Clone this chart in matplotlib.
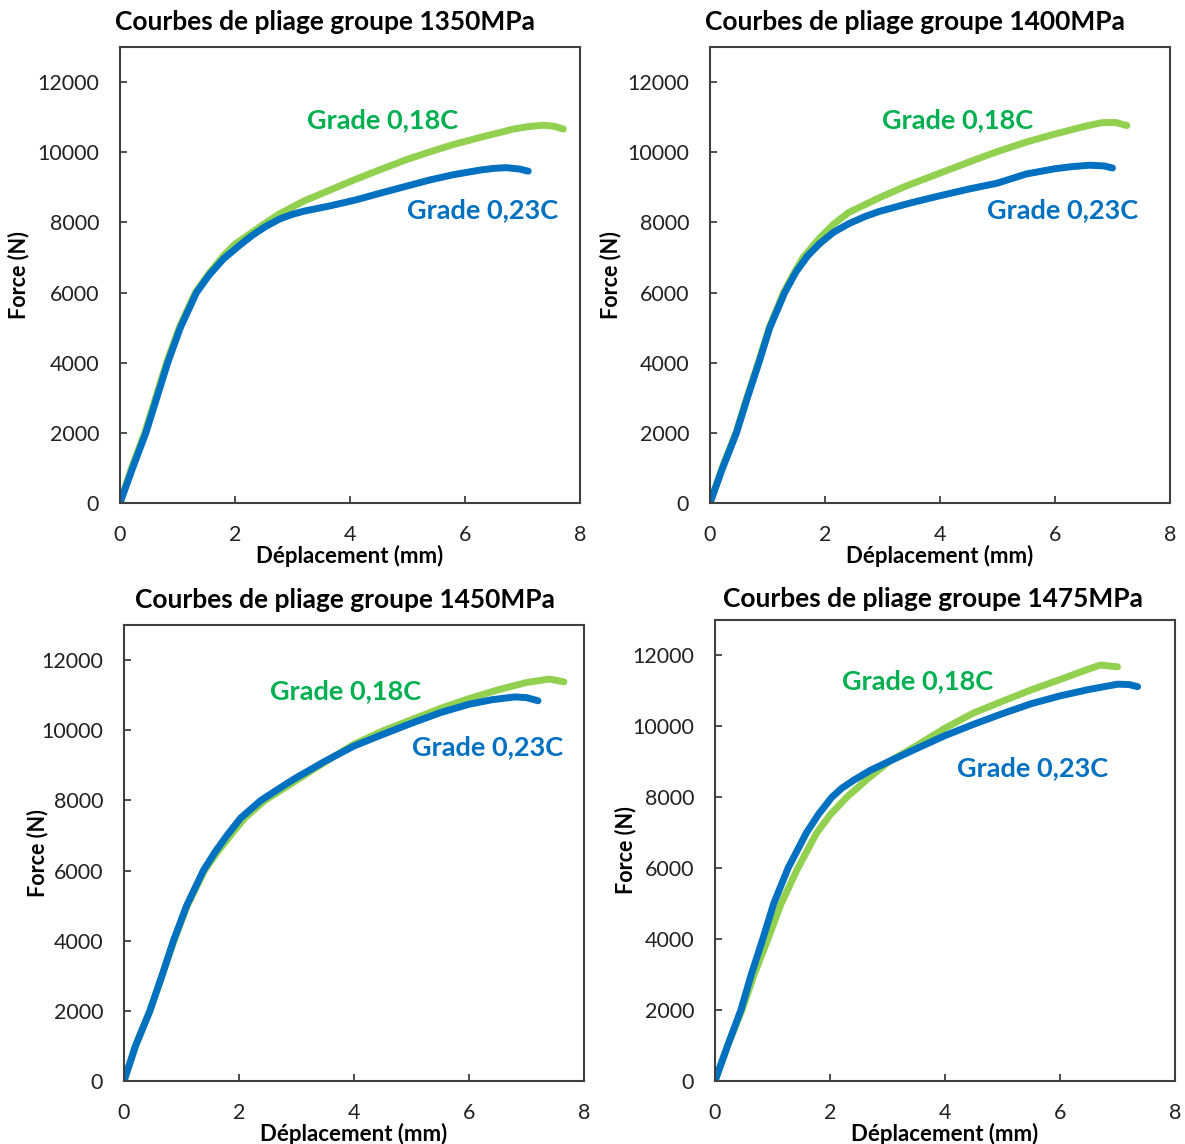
import numpy as np
import matplotlib.pyplot as plt

plt.rcParams['font.family'] = ['Lato', 'DejaVu Sans']

# titres des 4 groupes
titles = ['Courbes de pliage groupe 1350MPa', 'Courbes de pliage groupe 1400MPa',
          'Courbes de pliage groupe 1450MPa', 'Courbes de pliage groupe 1475MPa']

# Grade 0,18C (vert) - déplacement (mm), force (N)
x18_1350 = [0, 0.2, 0.43, 0.62, 0.81, 1.03, 1.31, 1.55, 1.8, 2.0, 2.3, 2.53, 2.78, 3.2, 3.65, 4.1, 4.52, 5.0, 5.39, 5.8, 6.26, 6.6, 6.84, 7.1, 7.36, 7.55, 7.71]
f18_1350 = [0, 1000, 2000, 3000, 4000, 5000, 6000, 6550, 7050, 7380, 7720, 7980, 8250, 8610, 8920, 9230, 9500, 9800, 10010, 10220, 10420, 10560, 10660, 10730, 10770, 10740, 10660]
x18_1400 = [0, 0.21, 0.45, 0.64, 0.84, 1.03, 1.28, 1.45, 1.62, 1.91, 2.15, 2.41, 2.94, 3.4, 3.75, 4.2, 4.6, 5.0, 5.5, 6.0, 6.5, 6.8, 7.05, 7.25]
f18_1400 = [0, 1000, 2000, 3000, 4000, 5000, 6000, 6520, 7000, 7560, 7950, 8280, 8700, 9030, 9250, 9530, 9780, 10020, 10290, 10520, 10730, 10840, 10850, 10760]
x18_1450 = [0, 0.2, 0.45, 0.66, 0.87, 1.1, 1.4, 1.62, 1.85, 2.1, 2.45, 2.95, 3.5, 4.0, 4.5, 5.0, 5.5, 6.0, 6.5, 7.0, 7.4, 7.65]
f18_1450 = [0, 1000, 2000, 3000, 4000, 5000, 6000, 6520, 7000, 7500, 8000, 8520, 9100, 9600, 9980, 10300, 10620, 10900, 11150, 11360, 11460, 11380]
x18_1475 = [0, 0.22, 0.47, 0.68, 0.92, 1.15, 1.44, 1.77, 2.0, 2.29, 2.64, 3.02, 3.55, 4.0, 4.5, 5.0, 5.5, 6.0, 6.4, 6.7, 7.0]
f18_1475 = [0, 1000, 2000, 3000, 4000, 5000, 6000, 7000, 7500, 8000, 8500, 9000, 9500, 9950, 10380, 10710, 11030, 11320, 11560, 11730, 11680]

# Grade 0,23C (bleu)
x23_1350 = [0, 0.22, 0.45, 0.64, 0.83, 1.05, 1.33, 1.55, 1.8, 2.06, 2.3, 2.53, 2.78, 3.0, 3.2, 3.65, 4.1, 4.52, 5.0, 5.39, 5.8, 6.26, 6.5, 6.72, 6.95, 7.1]
f23_1350 = [0, 1000, 2000, 3000, 4000, 5000, 6000, 6500, 6960, 7320, 7630, 7880, 8100, 8230, 8320, 8470, 8640, 8830, 9040, 9210, 9360, 9490, 9540, 9560, 9520, 9460]
x23_1400 = [0, 0.22, 0.46, 0.65, 0.85, 1.04, 1.3, 1.5, 1.7, 1.91, 2.15, 2.41, 2.7, 2.94, 3.5, 4.0, 4.5, 5.0, 5.25, 5.5, 6.0, 6.3, 6.6, 6.85, 7.0]
f23_1400 = [0, 1000, 2000, 3000, 4000, 5000, 6000, 6600, 7050, 7400, 7720, 7960, 8170, 8310, 8560, 8760, 8950, 9120, 9250, 9380, 9530, 9590, 9630, 9610, 9550]
x23_1450 = [0, 0.2, 0.45, 0.66, 0.86, 1.09, 1.38, 1.58, 1.79, 2.03, 2.38, 2.85, 3.0, 3.5, 4.0, 4.5, 5.0, 5.5, 6.0, 6.4, 6.8, 7.0, 7.2]
f23_1450 = [0, 1000, 2000, 3000, 4000, 5000, 6000, 6520, 7000, 7500, 8000, 8500, 8650, 9120, 9550, 9880, 10200, 10500, 10740, 10870, 10950, 10930, 10840]
x23_1475 = [0, 0.22, 0.45, 0.63, 0.83, 1.02, 1.27, 1.59, 1.8, 2.03, 2.2, 2.41, 2.7, 3.05, 3.5, 4.0, 4.5, 5.0, 5.5, 6.0, 6.5, 7.0, 7.2, 7.35]
f23_1475 = [0, 1000, 2000, 3000, 4000, 5000, 6000, 7000, 7520, 8000, 8250, 8480, 8760, 9030, 9370, 9740, 10060, 10360, 10640, 10860, 11040, 11190, 11180, 11120]

green_x = [x18_1350, x18_1400, x18_1450, x18_1475]
green_f = [f18_1350, f18_1400, f18_1450, f18_1475]
blue_x = [x23_1350, x23_1400, x23_1450, x23_1475]
blue_f = [f23_1350, f23_1400, f23_1450, f23_1475]

# positions des étiquettes (mm, N)
lab18 = [(4.56, 10920), (4.31, 10920), (3.86, 11120), (3.53, 11270)]
lab23 = [(6.3, 8350), (6.14, 8350), (6.33, 9520), (5.53, 8820)]

W, H = 1185, 1144
fig = plt.figure(figsize=(W / 100, H / 100), dpi=100)

# boîtes des axes en pixels: gauche, droite, haut, bas
boxes = [(120, 580, 47, 503), (710, 1170, 47, 503), (124, 584, 625, 1081), (715, 1175, 620, 1081)]
ylab_x = [-0.196, -0.193, -0.165, -0.17]
title_x = [0.446, 0.446, 0.48, 0.474]
title_y = [1.037, 1.037, 1.037, 1.028]

dark = '#404040'
for i in range(4):
    l, r, t, b = boxes[i]
    ax = fig.add_axes([l / W, 1 - b / H, (r - l) / W, (b - t) / H])
    ax.plot(green_x[i], green_f[i], color='#92D050', lw=5, solid_capstyle='round',
            solid_joinstyle='round')
    ax.plot(blue_x[i], blue_f[i], color='#0070C0', lw=5, solid_capstyle='round',
            solid_joinstyle='round')
    ax.set_xlim(0, 8)
    ax.set_ylim(0, 13000)
    ax.set_xticks([0, 2, 4, 6, 8])
    ax.set_yticks(range(0, 12001, 2000))
    ax.tick_params(direction='in', length=5, width=1.3, color=dark, labelcolor='#222222',
                   labelsize=15.5)
    ax.tick_params(axis='x', pad=16)
    ax.tick_params(axis='y', pad=15)
    for s in ax.spines.values():
        s.set_color(dark)
        s.set_linewidth(1.5)
    ax.set_xlabel('Déplacement (mm)', fontsize=16, fontweight='bold')
    ax.xaxis.set_label_coords(0.5, -0.092)
    ax.set_ylabel('Force (N)', fontsize=15.5, fontweight='bold')
    ax.yaxis.set_label_coords(ylab_x[i], 0.5)
    ax.set_title(titles[i], fontsize=19, fontweight='bold', x=title_x[i], y=title_y[i], pad=0)
    ax.text(*lab18[i], 'Grade 0,18C', color='#00B050', fontsize=19.5, fontweight='bold',
            ha='center', va='center')
    ax.text(*lab23[i], 'Grade 0,23C', color='#0070C0', fontsize=19.5, fontweight='bold',
            ha='center', va='center')

fig.savefig('out.png', dpi=100)
